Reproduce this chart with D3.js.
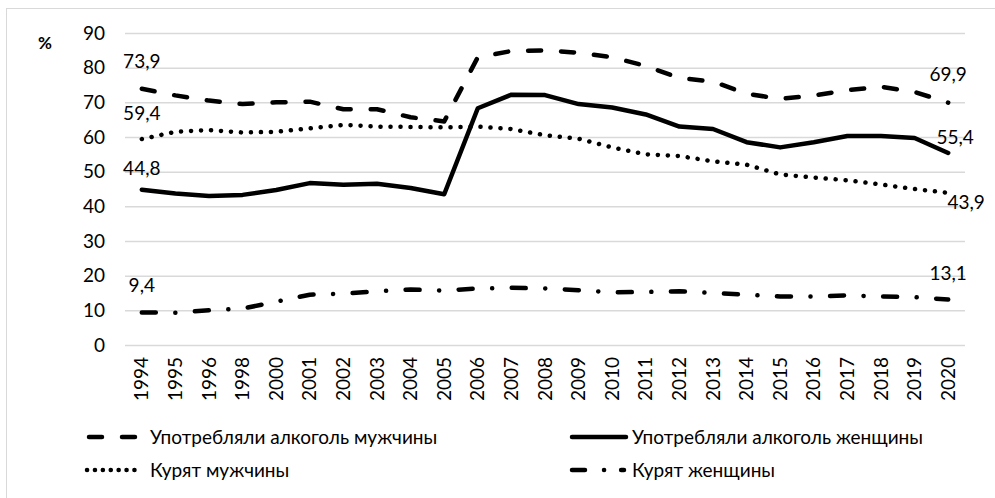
<!DOCTYPE html>
<html lang="ru">
<head>
    <meta charset="UTF-8">
    <title>Алкоголь и курение</title>
    <script src="https://d3js.org/d3.v7.min.js"></script>
    <style>
        body { margin: 0; background: #fff; font-family: Lato, "Open Sans", sans-serif; }
        .tick text { fill: #000; }
    </style>
</head>
<body>
    <div id="chart"></div>
    <script>
        // Data
        const years = ["1994", "1995", "1996", "1998", "2000", "2001", "2002", "2003", "2004", "2005",
            "2006", "2007", "2008", "2009", "2010", "2011", "2012", "2013", "2014", "2015",
            "2016", "2017", "2018", "2019", "2020"];
        const alcoholMen = [73.9, 72, 70.5, 69.5, 70, 70.2, 68, 68, 65.7, 64.5, 83, 84.8, 85, 84.3, 83,
            80.5, 77, 76, 72.5, 71, 72, 73.5, 74.5, 73, 69.9];
        const alcoholWomen = [44.8, 43.7, 43, 43.3, 44.7, 46.7, 46.2, 46.5, 45.3, 43.5, 68.3, 72.2, 72.1,
            69.5, 68.5, 66.5, 63, 62.3, 58.5, 57, 58.5, 60.3, 60.3, 59.7, 55.4];
        const smokeMen = [59.4, 61.5, 62, 61.3, 61.5, 62.5, 63.5, 63, 62.9, 62.8, 63, 62.3, 60.5, 59.5, 57,
            55, 54.5, 53, 52, 49.2, 48.3, 47.5, 46.3, 45, 43.9];
        const smokeWomen = [9.4, 9.3, 10, 10.5, 12.5, 14.5, 14.8, 15.5, 16, 15.7, 16.3, 16.5, 16.3, 15.8,
            15.2, 15.3, 15.5, 15, 14.5, 14, 14, 14.3, 14, 13.8, 13.1];
        const yTicks = [0, 10, 20, 30, 40, 50, 60, 70, 80, 90];

        const width = 995, height = 498;
        const plotLeft = 125, plotRight = 965, plotTop = 33, plotBottom = 345;
        const fontSize = 19;

        const svg = d3.select("#chart").append("svg")
            .attr("width", width).attr("height", height);

        // outer frame
        svg.append("rect")
            .attr("x", 6.5).attr("y", 8.5)
            .attr("width", 1000).attr("height", 500)
            .attr("fill", "none").attr("stroke", "#d9d9d9").attr("stroke-width", 1);

        const x = d3.scaleBand().domain(years).range([plotLeft, plotRight]);
        const y = d3.scaleLinear().domain([0, 90]).range([plotBottom, plotTop]);

        // gridlines + y labels
        const yAxis = svg.append("g")
            .attr("transform", `translate(${plotLeft},0)`)
            .call(d3.axisLeft(y).tickValues(yTicks).tickSize(-(plotRight - plotLeft)).tickPadding(20));
        yAxis.select(".domain").remove();
        yAxis.selectAll(".tick line").attr("stroke", "#d9d9d9").attr("stroke-width", 1.5);
        yAxis.selectAll(".tick text").attr("font-size", fontSize).attr("font-family", "Lato");

        // x labels, rotated
        const xAxis = svg.append("g")
            .attr("transform", `translate(0,${plotBottom})`)
            .call(d3.axisBottom(x).tickSize(0));
        xAxis.select(".domain").remove();
        xAxis.selectAll(".tick text")
            .attr("font-size", fontSize).attr("font-family", "Lato")
            .attr("transform", "rotate(-90)")
            .attr("text-anchor", "end")
            .attr("x", -12).attr("y", 0).attr("dy", "0.35em");

        svg.append("text").attr("x", 38).attr("y", 49)
            .attr("font-size", 17).attr("font-weight", "bold").attr("font-family", "Lato")
            .text("%");

        const line = d3.line()
            .x((d, i) => x(years[i]) + x.bandwidth() / 2)
            .y(d => y(d));

        const series = [
            { name: "Употребляли алкоголь мужчины", values: alcoholMen, dash: "13,20" },
            { name: "Употребляли алкоголь женщины", values: alcoholWomen, dash: null },
            { name: "Курят мужчины", values: smokeMen, dash: "0.1,9.9" },
            { name: "Курят женщины", values: smokeWomen, dash: "14,19.5,0.1,19.5" }
        ];

        series.forEach(s => {
            svg.append("path")
                .attr("d", line(s.values))
                .attr("fill", "none")
                .attr("stroke", "#000")
                .attr("stroke-width", 4.5)
                .attr("stroke-linecap", "round")
                .attr("stroke-linejoin", "round")
                .attr("stroke-dasharray", s.dash);
        });

        // data labels at the ends
        const labelFmt = v => String(v).replace(".", ",");
        const first = x(years[0]) + x.bandwidth() / 2;
        const last = x(years[years.length - 1]) + x.bandwidth() / 2;
        const endLabels = [
            { xp: first, v: alcoholMen[0], dx: 0, dy: -27 },
            { xp: first, v: smokeMen[0], dx: 0, dy: -26 },
            { xp: first, v: alcoholWomen[0], dx: 0, dy: -21 },
            { xp: first, v: smokeWomen[0], dx: 0, dy: -27 },
            { xp: last, v: alcoholMen[24], dx: 0, dy: -28 },
            { xp: last, v: alcoholWomen[24], dx: 7, dy: -16 },
            { xp: last, v: smokeMen[24], dx: 18, dy: 10 },
            { xp: last, v: smokeWomen[24], dx: 0, dy: -26 }
        ];
        svg.selectAll(".dlabel").data(endLabels).enter().append("text")
            .attr("class", "dlabel")
            .attr("x", d => d.xp + d.dx)
            .attr("y", d => y(d.v) + d.dy)
            .attr("text-anchor", "middle")
            .attr("dy", "0.35em")
            .attr("font-size", fontSize).attr("font-family", "Lato")
            .text(d => labelFmt(d.v));

        // legend
        const legend = [
            { s: series[0], x0: 89, x1: 135, tx: 150, y: 437, dash: "13,20" },
            { s: series[1], x0: 82, x1: 626, tx: 632, y: 437, dash: null },
            { s: series[2], x0: 87, x1: 139, tx: 150, y: 470, dash: "0.1,7.8" },
            { s: series[3], x0: 572, x1: 624, tx: 632, y: 470, dash: "13,19,0.1,17" }
        ];
        legend[1].x0 = 572;
        legend.forEach(l => {
            svg.append("line")
                .attr("x1", l.x0).attr("x2", l.x1)
                .attr("y1", l.y).attr("y2", l.y)
                .attr("stroke", "#000").attr("stroke-width", 4.5)
                .attr("stroke-linecap", "round")
                .attr("stroke-dasharray", l.dash);
            svg.append("text")
                .attr("x", l.tx).attr("y", l.y).attr("dy", "0.35em")
                .attr("font-size", fontSize).attr("font-family", "Lato")
                .text(l.s.name);
        });
    </script>
</body>
</html>
